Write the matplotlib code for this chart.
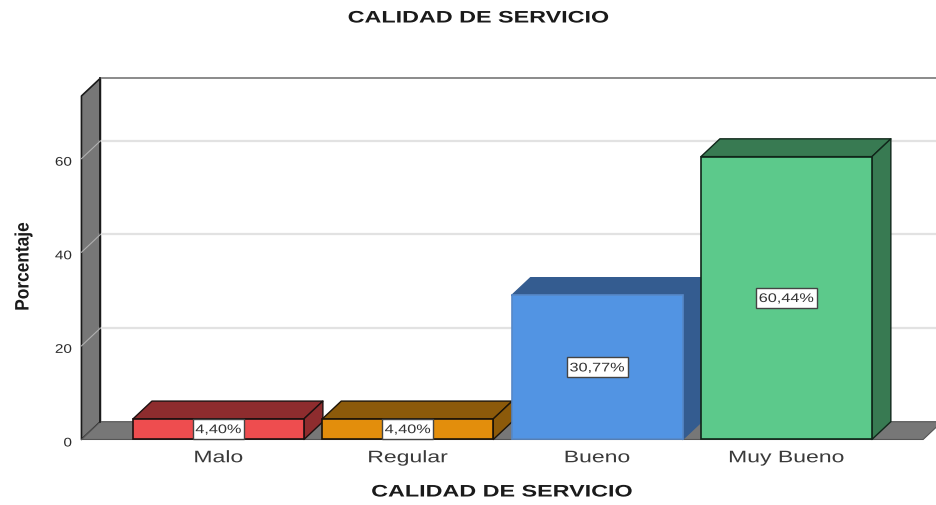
import matplotlib
matplotlib.use('Agg')
import matplotlib.pyplot as plt
from matplotlib.patches import Polygon, Rectangle
from matplotlib.patheffects import AbstractPathEffect
from matplotlib.transforms import Affine2D

categories = ['Malo', 'Regular', 'Bueno', 'Muy Bueno']
values = [4.40, 4.40, 30.77, 60.44]
value_labels = ['4,40%', '4,40%', '30,77%', '60,44%']
y_ticks = [0, 20, 40, 60]

front_colors = ['#EE4D4F', '#E38E0C', '#5294E3', '#5CC98B']
dark_colors = ['#8E2C2E', '#8C5A0A', '#345C90', '#387A52']
edge_colors = ['#1c1010', '#1c1408', '#5688c8', '#10261a']

# one category = 189.3 px, one percent = 4.68 px
PX_X = 189.3
PX_Y = 4.68
DX = 0.1
DY = 3.8
BAR_W = 0.903
WALL_X = -0.7237
FLOOR_END = 3.722
X_START = -1.154
X_END = 3.790
Y_TOP = 94.12
Y_BOTTOM = -14.0
Y_MAX = 77.2
WALL = '#777777'
GRID = '#e2e2e2'
TEXT = '#2a2a2a'
FONT = 'Liberation Sans'

fig = plt.figure(figsize=(9.36, 5.06), dpi=100)
ax = fig.add_axes([0, 0, 1, 1])
ax.set_xlim(X_START, X_END)
ax.set_ylim(Y_BOTTOM, Y_TOP)
ax.axis('off')


# the original picture was stretched, so the glyphs get stretched as well
class Stretch(AbstractPathEffect):
    def __init__(self, cx, cy, sx, sy):
        super().__init__()
        self.t = Affine2D().translate(-cx, -cy).scale(sx, sy).translate(cx, cy)

    def draw_path(self, renderer, gc, tpath, affine, rgbFace=None):
        renderer.draw_path(gc, tpath, affine + self.t, rgbFace)


def label(x, y, s, size, sx=1.0, sy=1.0, ha='center', weight='normal', color=TEXT, rotation=0, z=20):
    t = ax.text(x, y, s, ha=ha, va='center', fontsize=size, family=FONT, fontweight=weight, color=color,
                rotation=rotation, zorder=z)
    cx, cy = ax.transData.transform((x, y))
    t.set_path_effects([Stretch(cx, cy, sx, sy)])
    return t


def poly(pts, color, edge, lw=1.0, z=1):
    ax.add_patch(Polygon(pts, closed=True, facecolor=color, edgecolor=edge, linewidth=lw, zorder=z, joinstyle='round'))


# wall and floor
poly([(WALL_X, 0), (WALL_X, Y_MAX - DY), (WALL_X + DX, Y_MAX), (WALL_X + DX, DY)], WALL, '#1a1a1a', 1.2, 1)
poly([(WALL_X, 0), (FLOOR_END, 0), (FLOOR_END + DX, DY), (WALL_X + DX, DY)], WALL, '#555555', 0.8, 1)
ax.plot([WALL_X + DX, X_END], [Y_MAX, Y_MAX], color='#8a8a8a', lw=1.4, zorder=1)
ax.plot([WALL_X + DX, WALL_X + DX], [DY, Y_MAX], color='#1a1a1a', lw=1.2, zorder=2)

# gridlines
for t in y_ticks[1:]:
    ax.plot([WALL_X + DX, X_END], [t + DY, t + DY], color=GRID, lw=1.6, zorder=1)
    ax.plot([WALL_X, WALL_X + DX], [t, t + DY], color='#b0b0b0', lw=0.8, zorder=2)

for i, v in enumerate(values):
    left = i - BAR_W / 2
    right = i + BAR_W / 2
    z = 3 + i
    top_edge = dark_colors[i] if i == 2 else edge_colors[i]
    poly([(left, v), (right, v), (right + DX, v + DY), (left + DX, v + DY)], dark_colors[i], top_edge, 1.0, z)
    poly([(right, 0), (right + DX, DY), (right + DX, v + DY), (right, v)], dark_colors[i], top_edge, 1.0, z)
    ax.bar(i, v, width=BAR_W, color=front_colors[i], edgecolor=edge_colors[i], linewidth=1.2, zorder=z + 0.1)

    # value box, about 10 px per character
    box_w = (10 * len(value_labels[i]) + 1) / PX_X
    box_h = 20 / PX_Y
    ax.add_patch(Rectangle((i - box_w / 2, v / 2 - box_h / 2), box_w, box_h, facecolor='white', edgecolor='#444444',
                           linewidth=1.0, zorder=19))
    label(i, v / 2 - 0.2, value_labels[i], 9, sx=1.3, color='#333333')
    label(i, -3.9, categories[i], 12, sx=1.38, color='#3a3a3a')

for t in y_ticks:
    label(WALL_X - 0.05, t - 0.85, str(t), 9, sx=1.22, ha='right')

label(X_START + 478 / PX_X, Y_TOP - 19 / PX_Y, 'CALIDAD DE SERVICIO', 12, sx=1.40, weight='bold', color='#1a1a1a')
label(X_START + 501.5 / PX_X, Y_TOP - 493 / PX_Y, 'CALIDAD DE SERVICIO', 12, sx=1.40, weight='bold', color='#1a1a1a')
label(X_START + 24 / PX_X, Y_TOP - 267.5 / PX_Y, 'Porcentaje', 14, sy=0.89, weight='bold', rotation=90, color='#1a1a1a')

fig.savefig('out.png', dpi=100)
